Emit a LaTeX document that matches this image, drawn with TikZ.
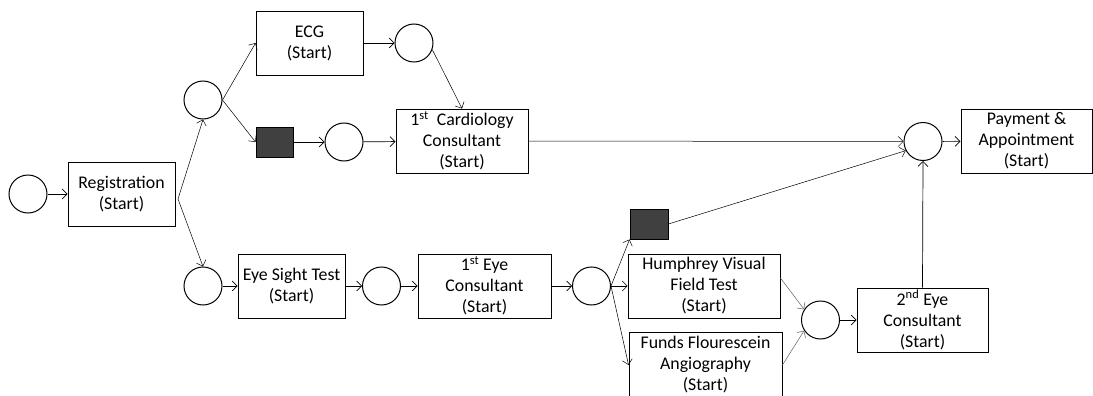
\documentclass[tikz,border=0pt]{standalone}
\usepackage{fontspec}
\setmainfont{Carlito}
\usetikzlibrary{arrows.meta}
\definecolor{token}{HTML}{404040}

\begin{document}
\begin{tikzpicture}[
    x=1pt, y=-1pt,
    >={Straight Barb[length=5pt, width=10pt]},
    every node/.style={font=\fontsize{17.8}{21}\selectfont},
    task/.style={draw, line width=0.9pt, align=center, inner sep=0pt, minimum height=64pt},
    place/.style={draw, circle, line width=1pt, minimum size=38pt, inner sep=0pt},
    block/.style={draw, fill=token, line width=0.9pt, minimum width=37pt, minimum height=30pt, inner sep=0pt},
    flow/.style={->, line width=0.7pt},
    thinflow/.style={->, line width=0.5pt},
    softflow/.style={->, line width=0.6pt, black!55},
]
\useasboundingbox (0,0) rectangle (1093,396);

% =============================================
% UPPER BRANCH - registration, ECG, cardiology
% =============================================
\node[place] (start) at (28,194) {};
\node[task, minimum width=107pt] (reg) at (121.5,194) {Registration\\(Start)};
\coordinate (regfork) at (178,199);

\node[place] (gup) at (203,100) {};
\node[task, minimum width=107pt] (ecg) at (309.5,43) {ECG\\(Start)};
\node[place] (pecg) at (414,43) {};
\node[block] (tokup) at (274.5,142) {};
\node[place] (pcard) at (344,142) {};
\node[task, minimum width=132pt] (cardio) at (462,141) {1\textsuperscript{st}\ \ Cardiology\\Consultant\\(Start)};

% Final join and payment
\node[place] (pjoin) at (923,141.5) {};
\node[task, minimum width=131pt] (pay) at (1026.5,141) {Payment \&\\Appointment\\(Start)};

% =============================================
% LOWER BRANCH - eye tests
% =============================================
\node[place] (gdown) at (203,286) {};
\node[task, minimum width=107pt] (sight) at (291.5,286) {Eye Sight Test\\(Start)};
\node[place] (psight) at (381.5,286) {};
\node[task, minimum width=133pt] (eyeone) at (484.5,286) {1\textsuperscript{st} Eye\\Consultant\\(Start)};
\node[place] (peye) at (591.5,286) {};
\node[block, minimum width=38pt] (toklow) at (649,224) {};
\node[task, minimum width=152pt] (humph) at (704,286) {Humphrey Visual\\Field Test\\(Start)};
\node[task, minimum width=153pt, minimum height=66pt] (funds) at (705.5,365) {Funds Flourescein\\Angiography\\(Start)};
\node[place] (ptests) at (820.5,320) {};
\node[task, minimum width=131pt] (eyetwo) at (922.5,320) {2\textsuperscript{nd} Eye\\Consultant\\(Start)};

% =============================================
% CONNECTORS
% =============================================
\draw[flow] (start) -- (reg);
\draw[thinflow] (regfork) -- (gup.south);
\draw[thinflow] (regfork) -- (gdown.north);

\draw[thinflow] (gup.east) -- (ecg.west);
\draw[thinflow] (gup.east) -- (tokup.west);
\draw[flow] (ecg) -- (pecg);
\draw[thinflow] (pecg.340) -- (cardio.north);
\draw[flow] (tokup) -- (pcard);
\draw[flow] (pcard) -- (cardio);
\draw[thinflow] (cardio) -- (pjoin);
\draw[flow] (pjoin) -- (pay);

\draw[flow] (gdown) -- (sight);
\draw[flow] (sight) -- (psight);
\draw[flow] (psight) -- (eyeone);
\draw[flow] (eyeone) -- (peye);
\draw[thinflow] (peye.east) -- (toklow.south west);
\draw[thinflow] (peye.east) -- (humph.west);
\draw[thinflow] (peye.east) -- (funds.west);
\draw[thinflow] (toklow.east) -- (pjoin.208);
\draw[softflow] (humph.6) -- (ptests.147);
\draw[softflow] (funds.east) -- (ptests.213);
\draw[flow] (ptests) -- (eyetwo);
\draw[flow] (eyetwo.north) -- (pjoin.south);

\end{tikzpicture}
\end{document}
